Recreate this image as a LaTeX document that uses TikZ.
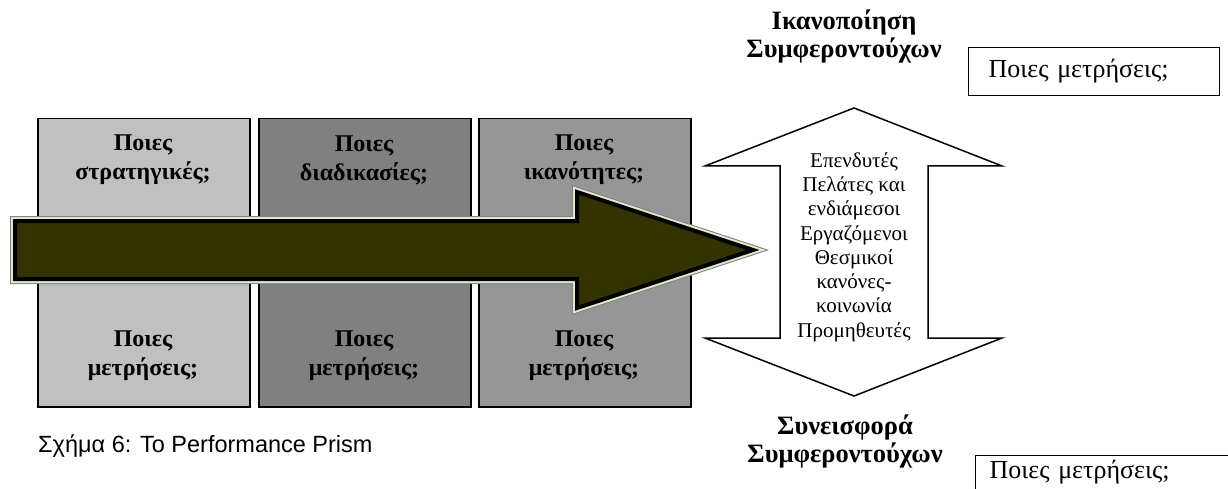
\documentclass[tikz,border=0pt]{standalone}
\usepackage{fontspec}
\setmainfont{Liberation Serif}
\newfontfamily\captionfont{Liberation Sans}
\definecolor{boxlight}{HTML}{C0C0C0}
\definecolor{boxdark}{HTML}{808080}
\definecolor{boxmid}{HTML}{969696}
\definecolor{arrowfill}{HTML}{333300}
\definecolor{arrowrim}{HTML}{E6E6CC}
\begin{document}
\begin{tikzpicture}[
        x=1pt, y=-1pt,
        font=\fontsize{21}{28}\selectfont
    ]
    \tikzset{
        prismbox/.style = {rectangle, draw=black, line width=1.5pt, anchor=north west, minimum width=212pt, minimum height=288pt},
        question/.style = {align=center, font=\fontsize{24}{29}\selectfont\bfseries},
        heading/.style = {align=center, font=\fontsize{26.5}{28}\selectfont\bfseries},
        measurebox/.style = {rectangle, draw=black, line width=1.2pt, anchor=north west, text width=211pt, inner xsep=20pt, minimum height=48pt, align=left, font=\fontsize{26}{28}\selectfont},
    }
    \useasboundingbox (0,0) rectangle (1228,489);
    \clip (0,0) rectangle (1228,489);
    % the three faces
    \node[prismbox, fill=boxlight] at (37,118) (B1) {};
    \node[prismbox, fill=boxdark] at (258,118) (B2) {};
    \node[prismbox, fill=boxmid] at (478,118) (B3) {};
    \node[question] at (143,160) (T1) {Ποιες\\στρατηγικές;};
    \node[question] at (364,160) (T2) {Ποιες\\διαδικασίες;};
    \node[question] at (584,160) (T3) {Ποιες\\ικανότητες;};
    \node[question] at (143,356) (M1) {Ποιες\\μετρήσεις;};
    \node[question] at (364,356) (M2) {Ποιες\\μετρήσεις;};
    \node[question] at (584,356) (M3) {Ποιες\\μετρήσεις;};
    % big arrow
    \foreach \w/\c in {10/gray, 8/arrowrim} {
        \draw[line width=\w pt, draw=\c] (15,221) -- (577,221) -- (577,192) -- (753,250) -- (577,308) -- (577,279) -- (15,279) -- cycle;
    }
    \draw[line width=4pt, fill=arrowfill] (15,221) -- (577,221) -- (577,192) -- (753,250) -- (577,308) -- (577,279) -- (15,279) -- cycle;
    % stakeholders
    \draw[line width=1.5pt, fill=white] (854,108) -- (1002,166) -- (928,166) -- (928,338) -- (1002,338) -- (854,396) -- (705,338) -- (780,338) -- (780,166) -- (705,166) -- cycle;
    \node[align=center, font=\fontsize{21}{24.3}\selectfont] at (854,247) (S) {Επενδυτές\\Πελάτες και\\ενδιάμεσοι\\Εργαζόμενοι\\Θεσμικοί\\κανόνες-\\κοινωνία\\Προμηθευτές};
    \node[heading] at (844,36) (I) {Ικανοποίηση\\Συμφεροντούχων};
    \node[heading] at (845,441) (C) {Συνεισφορά\\Συμφεροντούχων};
    \node[measurebox] at (968,47) (Q1) {Ποιες μετρήσεις;};
    \node[measurebox, text width=300pt, inner xsep=14pt, inner ysep=3pt, text height=20pt, text depth=30pt] at (975,455) (Q2) {Ποιες μετρήσεις;};
    \node[anchor=base west, inner sep=0pt, font=\captionfont\fontsize{23.5}{26}\selectfont] at (38,452) (cap) {Σχήμα 6: Το Performance Prism};
\end{tikzpicture}
\end{document}
